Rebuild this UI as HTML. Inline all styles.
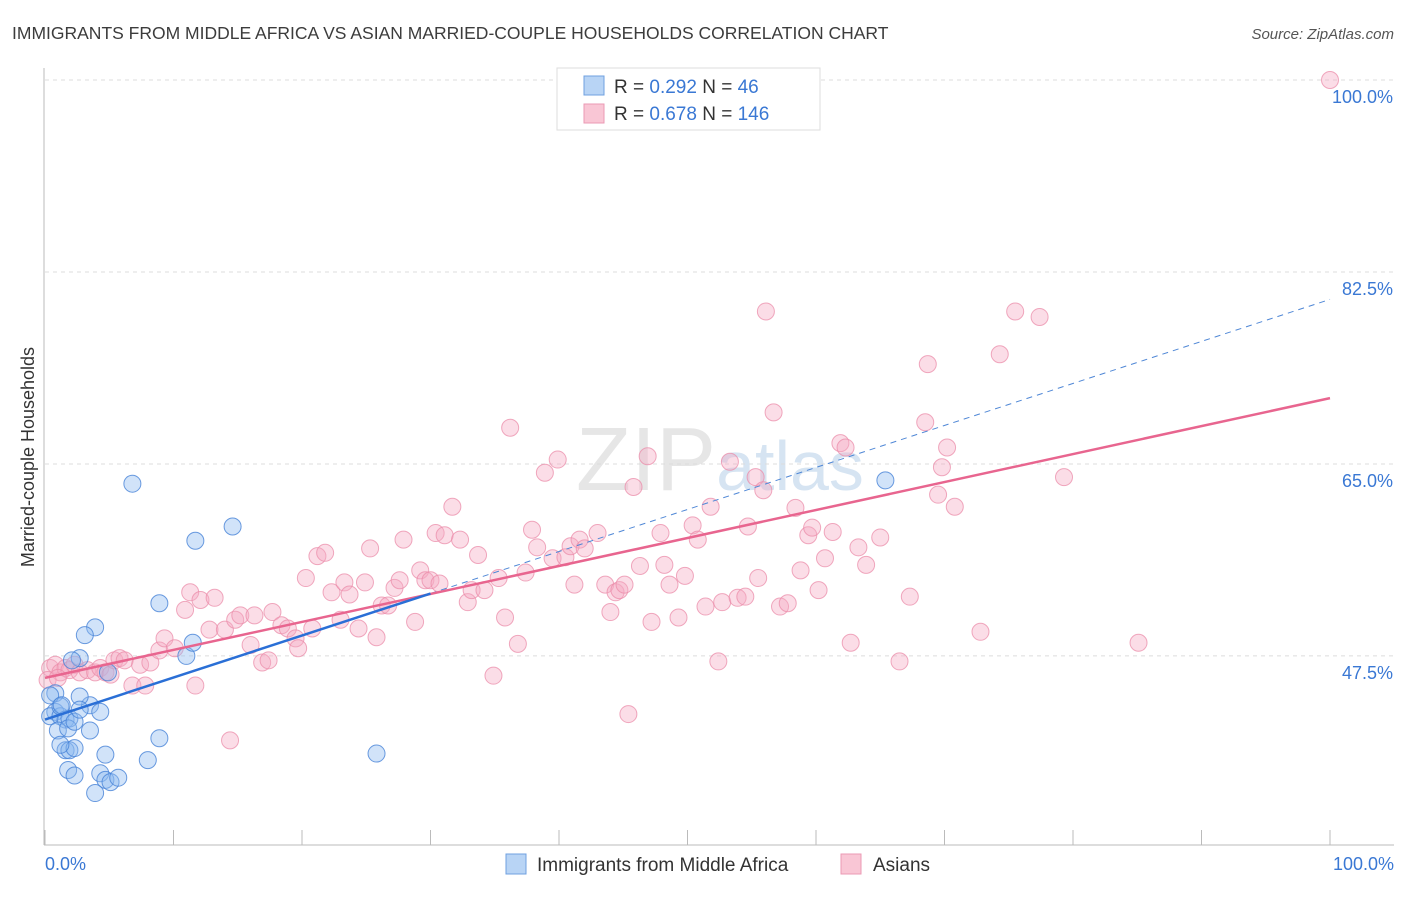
<!DOCTYPE html>
<html><head><meta charset="utf-8"><style>
body{margin:0;background:#fff;font-family:"Liberation Sans",sans-serif;}
svg text{font-family:"Liberation Sans",sans-serif;}
</style></head><body>
<svg id="chart" width="1406" height="892" xmlns="http://www.w3.org/2000/svg">
<text x="12" y="39" font-size="17.5" fill="#3c3c3c">IMMIGRANTS FROM MIDDLE AFRICA VS ASIAN MARRIED-COUPLE HOUSEHOLDS CORRELATION CHART</text>
<text x="1394" y="39" font-size="15" fill="#555" text-anchor="end" font-style="italic">Source: ZipAtlas.com</text>
<text x="720" y="490" font-size="90" fill="#e6e6e6" text-anchor="middle" font-family="Liberation Serif">ZIP<tspan fill="#d6e4f2" font-family="Liberation Sans" font-size="70">atlas</tspan></text>
<g id="grid"></g>
<g id="axes"></g>
<g id="pts"></g>
<g id="trends"></g>
<text transform="translate(34,457) rotate(-90)" font-size="18" fill="#333" text-anchor="middle">Married-couple Households</text>
<text x="45" y="870" font-size="18" fill="#3a78d4">0.0%</text>
<text x="1394" y="870" font-size="18" fill="#3a78d4" text-anchor="end">100.0%</text>
<g>
<rect x="557" y="68" width="263" height="62" fill="#fff" stroke="#ddd"/>
<rect x="584" y="76" width="20" height="19" fill="#b8d4f5" stroke="#6fa0e0"/>
<rect x="584" y="104" width="20" height="19" fill="#f9c6d5" stroke="#eb9ab4"/>
<text x="614" y="93" font-size="19" fill="#333">R = <tspan fill="#3a78d4">0.292</tspan>   N = <tspan fill="#3a78d4">  46</tspan></text>
<text x="614" y="120" font-size="19" fill="#333">R = <tspan fill="#3a78d4">0.678</tspan>   N = <tspan fill="#3a78d4">146</tspan></text>
</g>
<g>
<rect x="506" y="854" width="20" height="20" fill="#b8d4f5" stroke="#6fa0e0"/>
<text x="537" y="871" font-size="19" fill="#333">Immigrants from Middle Africa</text>
<rect x="841" y="854" width="20" height="20" fill="#f9c6d5" stroke="#eb9ab4"/>
<text x="873" y="871" font-size="19" fill="#333">Asians</text>
</g>
</svg>
<script>
const yTicks=[100,82.5,65,47.5];
const yTickLabels=["100.0%","82.5%","65.0%","47.5%"];
const blueX=[0.8,0.8,0.4,1.2,1.2,1.6,1.9,1.0,1.8,2.3,3.5,4.3,3.5,2.7,3.9,3.1,2.7,4.9,2.1,1.6,1.9,2.3,1.8,2.3,4.3,4.7,5.1,5.7,3.9,4.7,8.0,8.9,8.9,11.0,11.5,11.7,14.6,6.8,25.8,65.4,0.4,1.3,2.7,1.2];
const blueY=[44.1,42.4,42.0,42.0,42.9,41.7,41.8,40.7,40.9,41.5,43.0,42.4,40.7,43.8,50.1,49.4,47.3,46.0,47.1,38.9,38.9,39.1,37.1,36.6,36.8,36.2,36.0,36.4,35.0,38.5,38.0,40.0,52.3,47.5,48.7,58.0,59.3,63.2,38.6,63.5,43.9,43.0,42.6,39.4];
const pinkX=[0.4,0.8,1.2,1.6,1.9,2.3,2.7,3.3,3.9,4.3,4.7,5.1,5.4,5.8,6.2,0.2,1.0,6.8,7.8,7.4,8.2,8.9,9.3,10.1,11.7,10.9,11.3,12.1,13.2,12.8,14.0,14.8,15.2,16.0,16.3,16.9,17.4,17.7,18.4,18.9,19.5,19.7,14.4,20.3,21.2,21.8,20.8,22.3,23.0,23.3,23.7,24.4,24.9,25.3,25.8,26.2,26.7,27.2,27.6,27.9,28.8,29.2,29.6,30.0,30.7,30.4,31.1,31.7,32.3,32.9,33.2,33.7,34.2,34.9,35.3,35.8,36.2,36.8,37.4,37.9,38.3,38.9,39.5,39.9,40.5,40.9,41.2,41.6,42.0,43.0,43.6,44.0,44.4,44.7,45.1,45.4,45.8,46.3,46.9,47.2,47.9,48.2,48.6,49.3,49.8,50.4,50.8,51.4,51.8,52.4,52.7,53.3,53.9,54.5,54.7,55.3,55.5,55.9,56.1,56.7,57.2,57.8,58.4,58.8,59.4,59.7,60.2,60.7,61.3,61.9,62.3,62.7,63.3,63.9,65.0,66.5,67.3,68.5,68.7,69.5,69.8,70.2,70.8,72.8,74.3,75.5,77.4,79.3,85.1,100];
const pinkY=[46.4,46.7,46.0,46.4,46.2,46.7,46.0,46.2,46.0,46.4,46.0,45.8,47.1,47.3,47.1,45.3,45.5,44.8,44.8,46.7,46.9,48.0,49.1,48.2,44.8,51.7,53.3,52.6,52.8,49.9,49.9,50.8,51.2,48.5,51.2,46.9,47.1,51.5,50.3,50.0,49.1,48.2,39.8,54.6,56.6,56.9,50.0,53.3,50.8,54.2,53.1,50.0,54.2,57.3,49.2,52.1,52.1,53.7,54.4,58.1,50.6,55.3,54.4,54.4,54.1,58.7,58.5,61.1,58.1,52.4,53.5,56.7,53.5,45.7,54.6,51.0,68.3,48.6,55.1,59.0,57.4,64.2,56.4,65.4,56.5,57.5,54.0,58.1,57.3,58.7,54.0,51.5,53.3,53.5,54.0,42.2,62.9,55.7,65.7,50.6,58.7,55.8,54.0,51.0,54.8,59.4,58.1,52.0,61.1,47.0,52.4,65.2,52.8,52.9,59.3,63.8,54.6,62.6,78.9,69.7,52.0,52.3,61.0,55.3,58.5,59.2,53.5,56.4,58.8,66.9,66.5,48.7,57.4,55.8,58.3,47.0,52.9,68.8,74.1,62.2,64.7,66.5,61.1,49.7,75.0,78.9,78.4,63.8,48.7,100];
const blueTrend=[41.7,0.383];
const pinkTrend=[45.5,0.255];
const blueSolidEnd=30;

const NS="http://www.w3.org/2000/svg";
const X0=45,X1=1330,Y100=80,PXPER=10.97;
function sx(v){return X0+(X1-X0)*v/100;}
function sy(v){return Y100+(100-v)*PXPER;}
function mk(t,a,p){const e=document.createElementNS(NS,t);for(const k in a)e.setAttribute(k,a[k]);p.appendChild(e);return e;}
const grid=document.getElementById('grid'),axes=document.getElementById('axes'),pts=document.getElementById('pts'),tr=document.getElementById('trends');
yTicks.forEach((v,i)=>{
 const l=mk('line',{x1:45,x2:1394,y1:sy(v),y2:sy(v),stroke:'#dcdcdc','stroke-dasharray':'4,4'},grid);
 
 
 const t=mk('text',{x:1393,y:sy(v)+23,'font-size':18,fill:'#3a78d4','text-anchor':'end'},grid);
 t.textContent=yTickLabels[i];
 
 
});
const ya=mk('line',{x1:44,x2:44,y1:68,y2:845,stroke:'#bbb'},axes);


const xa=mk('line',{x1:44,x2:1394,y1:845,y2:845,stroke:'#bbb'},axes);


for(let i=0;i<=10;i++){
 const tk=mk('line',{x1:sx(i*10),x2:sx(i*10),y1:830,y2:845,stroke:'#bbb'},axes);
 
 
}
pinkX.forEach((x,i)=>{
 const c=mk('circle',{cx:sx(x),cy:sy(pinkY[i]),r:8.5,fill:'rgba(246,170,195,0.4)',stroke:'rgba(235,140,170,0.75)','stroke-width':1},pts);
 
 
});
blueX.forEach((x,i)=>{
 const c=mk('circle',{cx:sx(x),cy:sy(blueY[i]),r:8.5,fill:'rgba(140,185,240,0.4)',stroke:'rgba(70,130,215,0.8)','stroke-width':1},pts);
 
 
});
const bd=mk('line',{x1:sx(blueSolidEnd),y1:sy(blueTrend[0]+blueTrend[1]*blueSolidEnd),x2:sx(100),y2:sy(blueTrend[0]+blueTrend[1]*100),stroke:'#4f87d6','stroke-width':1,'stroke-dasharray':'6,5'},tr);


const pl=mk('line',{x1:sx(0),y1:sy(pinkTrend[0]),x2:sx(100),y2:sy(pinkTrend[0]+pinkTrend[1]*100),stroke:'#e8658f','stroke-width':2.5},tr);


const bl=mk('line',{x1:sx(0),y1:sy(blueTrend[0]),x2:sx(blueSolidEnd),y2:sy(blueTrend[0]+blueTrend[1]*blueSolidEnd),stroke:'#2a6fd6','stroke-width':2.5},tr);


</script>
</body></html>
